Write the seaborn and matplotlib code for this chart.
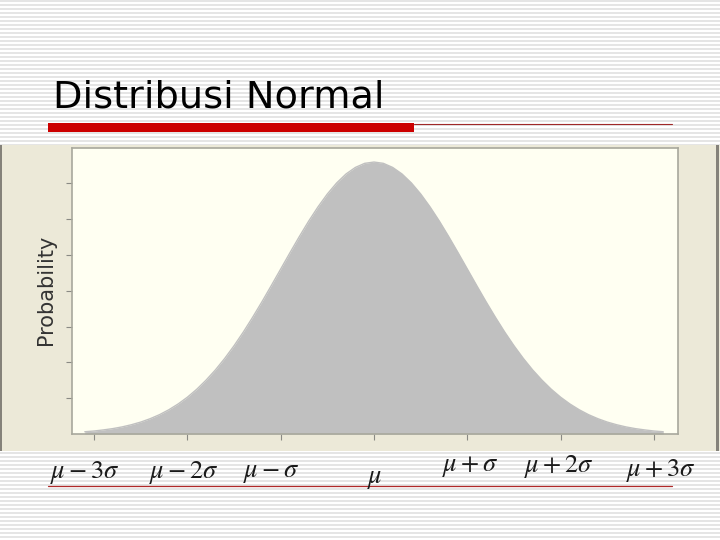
import numpy as np
import pandas as pd
import matplotlib.pyplot as plt
import seaborn as sns
from matplotlib.patches import Rectangle
from matplotlib.transforms import blended_transform_factory

# density, x in units of sigma from the mean
z_values = [-3.1, -3.0, -2.9, -2.8, -2.7, -2.6, -2.5, -2.4, -2.3, -2.2, -2.1,
            -2.0, -1.9, -1.8, -1.7, -1.6, -1.5, -1.4, -1.3, -1.2, -1.1,
            -1.0, -0.9, -0.8, -0.7, -0.6, -0.5, -0.4, -0.3, -0.2, -0.1,
            0.0, 0.1, 0.2, 0.3, 0.4, 0.5, 0.6, 0.7, 0.8, 0.9,
            1.0, 1.1, 1.2, 1.3, 1.4, 1.5, 1.6, 1.7, 1.8, 1.9,
            2.0, 2.1, 2.2, 2.3, 2.4, 2.5, 2.6, 2.7, 2.8, 2.9, 3.0, 3.1]
probability = [0.0033, 0.0044, 0.0060, 0.0079, 0.0104, 0.0136, 0.0175, 0.0224, 0.0283, 0.0355, 0.0440,
               0.0540, 0.0656, 0.0790, 0.0940, 0.1109, 0.1295, 0.1497, 0.1714, 0.1942, 0.2179,
               0.2420, 0.2661, 0.2897, 0.3123, 0.3332, 0.3521, 0.3683, 0.3814, 0.3910, 0.3970,
               0.3989, 0.3970, 0.3910, 0.3814, 0.3683, 0.3521, 0.3332, 0.3123, 0.2897, 0.2661,
               0.2420, 0.2179, 0.1942, 0.1714, 0.1497, 0.1295, 0.1109, 0.0940, 0.0790, 0.0656,
               0.0540, 0.0440, 0.0355, 0.0283, 0.0224, 0.0175, 0.0136, 0.0104, 0.0079, 0.0060, 0.0044, 0.0033]
sigma_ticks = [-3, -2, -1, 0, 1, 2, 3]
sigma_labels = [r'$\mu - 3\sigma$', r'$\mu - 2\sigma$', r'$\mu - \sigma$', r'$\mu$',
                r'$\mu + \sigma$', r'$\mu + 2\sigma$', r'$\mu + 3\sigma$']
y_ticks = [0.0525, 0.105, 0.1575, 0.21, 0.2625, 0.315, 0.3675]

df = pd.DataFrame({'z': z_values, 'p': probability})

sns.set_theme(style='white')
plt.rcParams['font.family'] = ['DejaVu Sans']
plt.rcParams['mathtext.fontset'] = 'stix'

fig = plt.figure(figsize=(7.2, 5.4), dpi=100)

# slide background drawn in pixel coordinates
bg = fig.add_axes([0, 0, 1, 1], zorder=0)
bg.set_xlim(0, 720)
bg.set_ylim(540, 0)
bg.axis('off')
for yy in np.arange(1, 540, 4):
    bg.axhline(yy, color='#dedede', lw=1.1, zorder=0)
bg.add_patch(Rectangle((0, 145), 720, 306, facecolor='#ece9d8', edgecolor='none', zorder=2))
bg.add_patch(Rectangle((0, 145), 2, 306, facecolor='#85827a', edgecolor='none', zorder=3))
bg.add_patch(Rectangle((716, 145), 3, 306, facecolor='#85827a', edgecolor='none', zorder=3))
bg.add_patch(Rectangle((48, 123), 366, 9, facecolor='#cc0000', edgecolor='none', zorder=3))
bg.plot([414, 672], [123.5, 123.5], color='#a02828', lw=0.8, zorder=3)
bg.plot([48, 672], [486, 486], color='#b02a2a', lw=0.9, zorder=3)
bg.text(53, 108, 'Distribusi Normal', fontsize=27.5, color='black', va='baseline', zorder=4)
bg.text(46, 290, 'Probability', fontsize=15, color='#333333', rotation=90,
        ha='center', va='center', zorder=4)

# plot area
ax = fig.add_axes([72 / 720, 1 - 434 / 540, 606 / 720, 286 / 540], zorder=1)
ax.set_facecolor('#fffff2')
sns.lineplot(data=df, x='z', y='p', ax=ax, color='#c0c0c0', lw=1)
ax.fill_between(df['z'], df['p'], color='#c0c0c0', lw=0)
ax.set_xlim(-3.237, 3.258)
ax.set_ylim(0, 0.4195)
ax.set_xticks(sigma_ticks)
ax.set_yticks(y_ticks)
ax.set_xlabel('')
ax.set_ylabel('')
ax.tick_params(axis='both', length=4.5, width=0.8, color='#8a8a84',
               labelleft=False, labelbottom=False, bottom=True, left=True)
for side in ax.spines.values():
    side.set_color('#a8a89c')
    side.set_linewidth(1.2)

# sigma labels under the panel
trans = blended_transform_factory(ax.transData, bg.transData)
label_dx = [-0.1, -0.04, -0.1, 0.01, 0.03, -0.02, 0.07]
label_y = [472, 472, 472, 478, 466, 466, 470]
for t, lab, dx, yy in zip(sigma_ticks, sigma_labels, label_dx, label_y):
    ax.text(t + dx, yy, lab, transform=trans, ha='center', va='center',
            fontsize=19, color='#1a1a1a', clip_on=False)

plt.savefig('out.png', dpi=100)
plt.close()
